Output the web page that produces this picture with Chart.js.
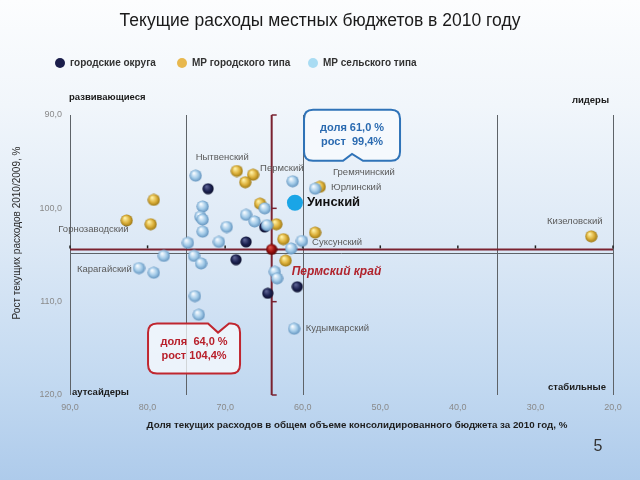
<!DOCTYPE html>
<html><head><meta charset="utf-8">
<script src="https://cdn.jsdelivr.net/npm/chart.js@4.4.0/dist/chart.umd.min.js"></script>
<style>
html,body{margin:0;padding:0;width:640px;height:480px;overflow:hidden;}
body{background:linear-gradient(to bottom,#fcfdfe 0%,#f1f6fb 22%,#dde9f6 50%,#c4daf1 78%,#aecbeb 100%);}
canvas{display:block;}
</style></head><body>
<canvas id="c" width="640" height="480"></canvas>
<script>
// ---- data ----
const chartTitle = 'Текущие расходы местных бюджетов в 2010 году';
const seriesNames = ['городские округа', 'МР городского типа', 'МР сельского типа'];
const xAxisTitle = 'Доля текущих расходов в общем объеме консолидированного бюджета за 2010 год, %';
const yAxisTitle = 'Рост текущих расходов 2010/2009, %';

const xTickValues = [90, 80, 70, 60, 50, 40, 30, 20];
const xTickLabels = ['90,0', '80,0', '70,0', '60,0', '50,0', '40,0', '30,0', '20,0'];
const yTickValues = [90, 100, 110, 120];
const yTickLabels = ['90,0', '100,0', '110,0', '120,0'];

// городские округа
const cityX = [72.2, 67.3, 68.6, 64.5, 60.7, 64.9];
const cityY = [97.9, 103.6, 105.5, 109.1, 108.4, 102.0];
// МР городского типа
const townX = [79.2, 82.7, 79.6, 68.5, 66.4, 67.4, 65.5, 63.4, 62.5, 62.2, 58.4, 57.8, 22.8];
const townY = [99.1, 101.3, 101.7, 96.0, 96.4, 97.2, 99.5, 101.7, 103.3, 105.6, 102.6, 97.7, 103.0];
// МР сельского типа
const ruralX = [73.8, 72.9, 73.2, 72.9, 72.9, 74.8, 77.9, 74.0, 73.1, 81.1, 79.2, 70.8, 69.8, 67.3, 66.2, 64.9, 64.6, 61.3, 58.4, 61.5, 60.1, 63.6, 63.3, 73.9, 73.4, 61.1];
const ruralY = [96.5, 99.8, 100.9, 101.2, 102.5, 103.7, 105.1, 105.1, 105.9, 106.4, 106.9, 103.6, 102.0, 100.7, 101.4, 100.0, 101.8, 97.1, 97.9, 104.3, 103.5, 106.8, 107.5, 109.4, 111.4, 112.9];
// Пермский край (среднее)
const regionX = [64.0];
const regionY = [104.4];
// Уинский
const uinskyX = [61.0];
const uinskyY = [99.4];

// quadrant divider lines (values)
const dividerX = [90, 75, 60, 35, 20];
const dividerY = [104.8];

const pointLabels = ['Нытвенский', 'Пермский', 'Гремячинский', 'Юрлинский', 'Горнозаводский', 'Суксунский', 'Карагайский', 'Кудымкарский', 'Кизеловский'];
const quadrantLabels = ['развивающиеся', 'лидеры', 'аутсайдеры', 'стабильные'];
const calloutBlue = ['доля 61,0 %', 'рост  99,4%'];
const calloutRed = ['доля  64,0 %', 'рост 104,4%'];
const regionName = 'Пермский край';
const uinskyName = 'Уинский';
const pageNumber = '5';

// ---- helpers ----
const FONT = "'Liberation Sans', Arial, sans-serif";
Chart.defaults.font.family = FONT;
function zip(a, b) { return a.map((v, i) => ({ x: v, y: b[i] })); }
function sphere(base, light, dark, d) {
  const c = document.createElement('canvas');
  c.width = c.height = d;
  const g = c.getContext('2d');
  const r = d / 2;
  const gr = g.createRadialGradient(r * 0.72, r * 0.62, r * 0.08, r, r, r);
  gr.addColorStop(0, light);
  gr.addColorStop(0.55, base);
  gr.addColorStop(1, dark);
  g.fillStyle = gr;
  g.beginPath(); g.arc(r, r, r - 0.4, 0, Math.PI * 2); g.fill();
  return c;
}
const sLight = sphere('#a2cae8', '#f6fbff', '#5a8cb8', 13);
const sGold = sphere('#dcb03a', '#fff1a6', '#94700f', 13);
const sDark = sphere('#1d2352', '#5d6394', '#0a0d28', 12);
const sRed = sphere('#9a0f0f', '#e0574c', '#4c0505', 12);

// annotation anchors (data coords)
const labelAnchors = [
  [73.8, 94.5], [65.5, 95.7], [56.1, 96.2], [56.35, 97.8], [91.5, 102.3],
  [58.8, 103.7], [89.1, 106.5], [59.6, 112.9], [28.5, 101.4]
];

const deco = {
  id: 'deco',
  beforeDatasetsDraw(chart) {
    const { ctx, chartArea: a, scales: { x, y } } = chart;
    ctx.save();
    const line = (x1, y1, x2, y2) => { ctx.beginPath(); ctx.moveTo(x1, y1); ctx.lineTo(x2, y2); ctx.stroke(); };
    ctx.strokeStyle = '#5e6368'; ctx.lineWidth = 1;
    dividerX.forEach(v => { const p = Math.round(x.getPixelForValue(v)) + 0.5; line(p, a.top, p, a.bottom); });
    dividerY.forEach(v => { const p = Math.round(y.getPixelForValue(v)) + 0.5; line(a.left, p, a.right, p); });
    ctx.strokeStyle = '#7a2230'; ctx.lineWidth = 2;
    const rx = x.getPixelForValue(regionX[0]), ry = y.getPixelForValue(regionY[0]);
    line(rx, a.top, rx, a.bottom);
    line(a.left, ry, a.right, ry);
    ctx.strokeStyle = '#222'; ctx.lineWidth = 1.5;
    xTickValues.forEach(v => { const p = x.getPixelForValue(v); line(p, ry - 1, p, ry - 4); });
    ctx.strokeStyle = '#7a2230';
    yTickValues.forEach(v => { const p = y.getPixelForValue(v); line(rx, p, rx + 5, p); });
    ctx.restore();
  },
  afterDraw(chart) {
    const { ctx, chartArea: a, scales: { x, y } } = chart;
    ctx.save();
    ctx.textBaseline = 'middle';
    // point labels
    ctx.fillStyle = '#5a5a5a';
    ctx.font = '9.5px ' + FONT;
    ctx.textAlign = 'left';
    pointLabels.forEach((t, i) => {
      ctx.fillText(t, x.getPixelForValue(labelAnchors[i][0]), y.getPixelForValue(labelAnchors[i][1]));
    });
    // Уинский
    ctx.fillStyle = '#111';
    ctx.font = 'bold 13px ' + FONT;
    ctx.fillText(uinskyName, x.getPixelForValue(uinskyX[0]) + 12, y.getPixelForValue(uinskyY[0]));
    // Пермский край
    ctx.fillStyle = '#b0222c';
    ctx.font = 'italic bold 12px ' + FONT;
    ctx.fillText(regionName, x.getPixelForValue(regionX[0]) + 20, y.getPixelForValue(regionY[0]) + 22);
    // quadrant labels
    ctx.fillStyle = '#1a1a1a';
    ctx.font = 'bold 9.5px ' + FONT;
    ctx.textAlign = 'left';
    ctx.fillText(quadrantLabels[0], a.left - 1, a.top - 18);
    ctx.textAlign = 'right';
    ctx.fillText(quadrantLabels[1], a.right - 4, a.top - 15);
    ctx.textAlign = 'left';
    ctx.fillText(quadrantLabels[2], a.left + 2, a.bottom - 3);
    ctx.textAlign = 'right';
    ctx.fillText(quadrantLabels[3], a.right - 7, a.bottom - 8);
    // callouts
    function callout(L, T, W, H, notch, color, lines, textColor) {
      const R = L + W, B = T + H, r = 9;
      ctx.beginPath();
      ctx.moveTo(L + r, T);
      if (notch.side === 'top') { ctx.lineTo(L + notch.a, T); ctx.lineTo(L + notch.m, T + notch.d); ctx.lineTo(L + notch.b, T); }
      ctx.lineTo(R - r, T); ctx.quadraticCurveTo(R, T, R, T + r);
      ctx.lineTo(R, B - r); ctx.quadraticCurveTo(R, B, R - r, B);
      if (notch.side === 'bottom') { ctx.lineTo(L + notch.b, B); ctx.lineTo(L + notch.m, B - notch.d); ctx.lineTo(L + notch.a, B); }
      ctx.lineTo(L + r, B); ctx.quadraticCurveTo(L, B, L, B - r);
      ctx.lineTo(L, T + r); ctx.quadraticCurveTo(L, T, L + r, T);
      ctx.closePath();
      ctx.fillStyle = 'rgba(248,251,254,0.75)';
      ctx.fill();
      ctx.strokeStyle = color; ctx.lineWidth = 2; ctx.stroke();
      ctx.fillStyle = textColor;
      ctx.font = 'bold 11px ' + FONT;
      ctx.textAlign = 'center';
      ctx.fillText(lines[0], L + W / 2, T + H / 2 - 7);
      ctx.fillText(lines[1], L + W / 2, T + H / 2 + 7);
    }
    const bx = x.getPixelForValue(59.83), by = y.getPixelForValue(89.45);
    callout(bx, by, 96, 51, { side: 'bottom', a: 39, m: 48, b: 59, d: 7 }, '#2f73b8', calloutBlue, '#2a6ab0');
    const cx = x.getPixelForValue(79.94), cy = y.getPixelForValue(112.35);
    callout(cx, cy, 92, 50, { side: 'top', a: 60, m: 70, b: 81, d: 9 }, '#c0262f', calloutRed, '#b8202b');
    // legend
    const legendColors = ['#1b1e4b', '#e8b84e', '#a9dcf3'];
    const legendX = [60, 182, 313];
    ctx.font = 'bold 10px ' + FONT;
    ctx.textAlign = 'left';
    seriesNames.forEach((t, i) => {
      ctx.fillStyle = legendColors[i];
      ctx.beginPath(); ctx.arc(legendX[i], 63, 5, 0, Math.PI * 2); ctx.fill();
      ctx.fillStyle = '#333';
      ctx.fillText(t, legendX[i] + 10, 63);
    });
    // axis titles
    ctx.fillStyle = '#1e1e1e';
    ctx.font = 'bold 9.75px ' + FONT;
    ctx.textAlign = 'center';
    ctx.fillText(xAxisTitle, 357, a.bottom + 30);
    ctx.save();
    ctx.translate(17, 233);
    ctx.rotate(-Math.PI / 2);
    ctx.font = '10px ' + FONT;
    ctx.fillStyle = '#2a2a2a';
    ctx.fillText(yAxisTitle, 0, 0);
    ctx.restore();
    // page number
    ctx.fillStyle = '#333';
    ctx.font = '16px ' + FONT;
    ctx.textAlign = 'center';
    ctx.fillText(pageNumber, 598, 447);
    ctx.restore();
  }
};

new Chart(document.getElementById('c'), {
  type: 'scatter',
  data: {
    datasets: [
      { label: uinskyName, data: zip(uinskyX, uinskyY), backgroundColor: '#1aa5e6', borderWidth: 0, pointRadius: 8, order: 0 },
      { label: regionName, data: zip(regionX, regionY), pointStyle: sRed, pointRadius: 6, order: 1 },
      { label: seriesNames[2], data: zip(ruralX, ruralY), pointStyle: sLight, pointRadius: 6.5, order: 2 },
      { label: seriesNames[1], data: zip(townX, townY), pointStyle: sGold, pointRadius: 6.5, order: 3 },
      { label: seriesNames[0], data: zip(cityX, cityY), pointStyle: sDark, pointRadius: 6, order: 4 }
    ]
  },
  options: {
    responsive: false,
    animation: false,
    events: [],
    layout: { padding: { left: 27, right: 27, top: 0, bottom: 0 } },
    plugins: {
      legend: { display: false },
      tooltip: { enabled: false },
      title: {
        display: true, text: chartTitle, color: '#1a1a1a',
        font: { size: 17.5, weight: 'normal', family: FONT, lineHeight: 1.2 },
        padding: { top: 11, bottom: 83 }
      }
    },
    scales: {
      x: {
        type: 'linear', min: 20, max: 90, reverse: true,
        afterBuildTicks: s => { s.ticks = xTickValues.map(v => ({ value: v })); },
        ticks: { color: '#8a8a8a', font: { size: 9 }, padding: 7, maxRotation: 0, autoSkip: false,
          callback: v => xTickLabels[xTickValues.indexOf(v)] },
        grid: { display: false, drawTicks: false },
        border: { display: false },
        afterFit: s => { s.height = 85; }
      },
      y: {
        type: 'linear', min: 90, max: 120, reverse: true,
        afterBuildTicks: s => { s.ticks = yTickValues.map(v => ({ value: v })); },
        ticks: { color: '#8a8a8a', font: { size: 9 }, padding: 8, autoSkip: false,
          callback: v => yTickLabels[yTickValues.indexOf(v)] },
        grid: { display: false, drawTicks: false },
        border: { display: false },
        afterFit: s => { s.width = 43; }
      }
    }
  },
  plugins: [deco]
});
</script>
</body></html>
